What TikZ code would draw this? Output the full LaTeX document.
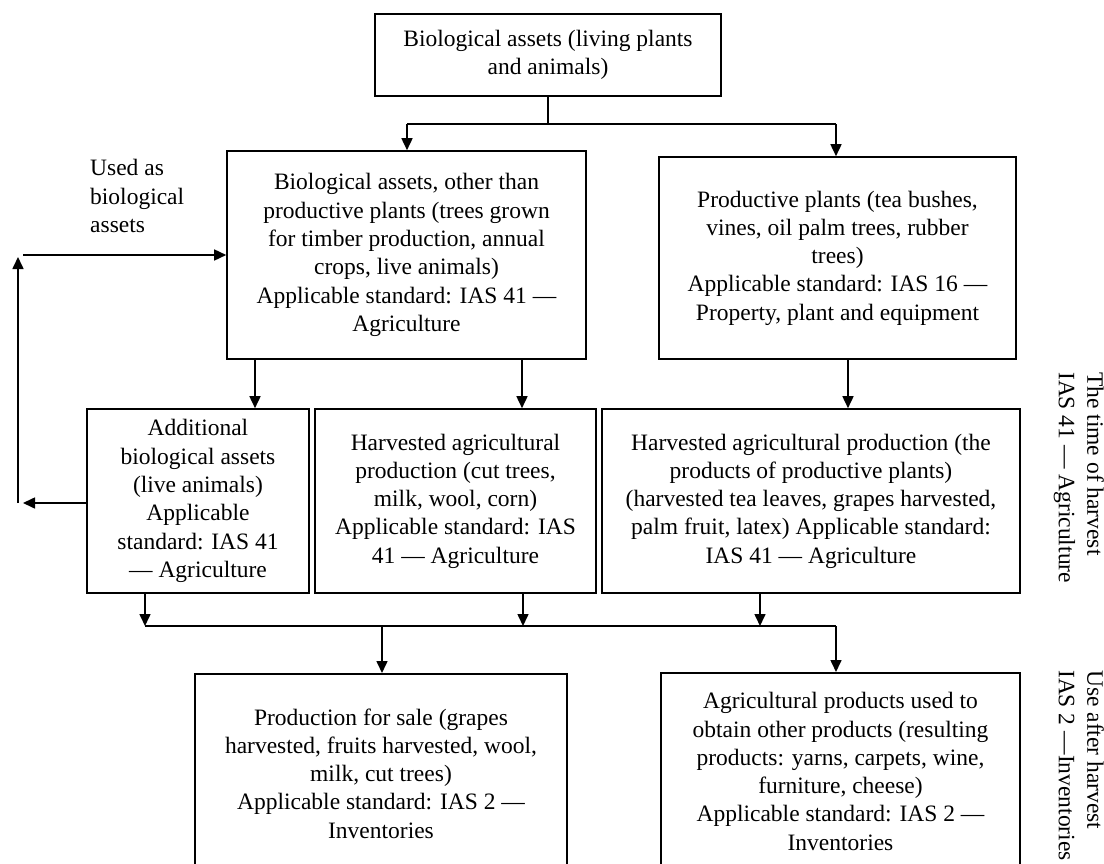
\documentclass[tikz,border=0pt]{standalone}
\usepackage{fontspec}
\setmainfont{Liberation Serif}
\usetikzlibrary{arrows.meta}
\begin{document}
\begin{tikzpicture}[x=1pt,y=-1pt,
  box/.style={draw, line width=1.6pt, align=center, inner sep=0pt,
    font=\fontsize{23.5}{28.3}\selectfont},
  plain/.style={align=center, inner sep=0pt, font=\fontsize{23.5}{28.3}\selectfont},
  arr/.style={-{Triangle[length=12pt,width=11pt]}, line width=1.6pt},
  ln/.style={line width=1.6pt}]
\useasboundingbox (0,0) rectangle (1104,864);
\clip (0,0) rectangle (1104,864);

% boxes
\node[box, minimum width=346, minimum height=82] (top) at (548,55)
  {Biological assets (living plants\\and animals)};
\node[box, minimum width=359, minimum height=208] (b2) at (406.5,255)
  {Biological assets, other than\\productive plants (trees grown\\for timber production, annual\\crops, live animals)\\Applicable standard: IAS 41 —\\Agriculture};
\node[box, minimum width=357, minimum height=202] (b3) at (837.5,258)
  {Productive plants (tea bushes,\\vines, oil palm trees, rubber\\trees)\\Applicable standard: IAS 16 —\\Property, plant and equipment};
\node[box, minimum width=222, minimum height=184] (b4) at (198,501)
  {Additional\\biological assets\\(live animals)\\Applicable\\standard: IAS 41\\— Agriculture};
\node[box, minimum width=281, minimum height=184] (b5) at (455.5,501)
  {Harvested agricultural\\production (cut trees,\\milk, wool, corn)\\Applicable standard: IAS\\41 — Agriculture};
\node[box, minimum width=418, minimum height=184] (b6) at (811,501)
  {Harvested agricultural production (the\\products of productive plants)\\(harvested tea leaves, grapes harvested,\\palm fruit, latex) Applicable standard:\\IAS 41 — Agriculture};
\node[box, minimum width=372, minimum height=240, anchor=north] (b7) at (381,673) {};
\node[plain] (b7t) at (381,773.5)
  {Production for sale (grapes\\harvested, fruits harvested, wool,\\milk, cut trees)\\Applicable standard: IAS 2 —\\Inventories};
\node[box, minimum width=359, minimum height=240, anchor=north] (b8) at (840.5,672) {};
\node[plain] (b8t) at (840.5,771.5)
  {Agricultural products used to\\obtain other products (resulting\\products: yarns, carpets, wine,\\furniture, cheese)\\Applicable standard: IAS 2 —\\Inventories};

% side labels
\node[plain, align=left, anchor=west] (used) at (90,196)
  {Used as\\biological\\assets};
\node[plain, align=left, rotate=-90, anchor=north west] (r1) at (1104,372)
  {The time of harvest\\IAS 41 — Agriculture};
\node[plain, align=left, rotate=-90, anchor=north west] (r2) at (1104,670)
  {Use after harvest\\IAS 2 —Inventories};

% coordinates
\coordinate (j1) at (548,124);
\coordinate (jl) at (407,124);
\coordinate (jr) at (836,124);
\coordinate (xa) at (255,0);
\coordinate (xb) at (522,0);
\coordinate (xc) at (848,0);
\coordinate (ya) at (0,626);
\coordinate (xd) at (145,0);
\coordinate (xe) at (523,0);
\coordinate (xf) at (760,0);
\coordinate (h1) at (145,626);
\coordinate (h2) at (836,626);
\coordinate (d1) at (382,626);
\coordinate (d2) at (836,626);
\coordinate (lp1) at (18,503);
\coordinate (lp2) at (18,257);
\coordinate (lp3) at (23,503);
\coordinate (lp4) at (23,255);

% top split
\draw[ln] (top.south -| j1) -- (j1);
\draw[ln] (jl) -- (jr);
\draw[arr] (jl) -- (b2.north -| jl);
\draw[arr] (jr) -- (b3.north -| jr);

% row 1 to row 2
\draw[arr] (b2.south -| xa) -- (b4.north -| xa);
\draw[arr] (b2.south -| xb) -- (b5.north -| xb);
\draw[arr] (b3.south -| xc) -- (b6.north -| xc);

% row 2 to collector line
\draw[arr] (b4.south -| xd) -- (ya -| xd);
\draw[arr] (b5.south -| xe) -- (ya -| xe);
\draw[arr] (b6.south -| xf) -- (ya -| xf);
\draw[ln] (h1) -- (h2);
\draw[arr] (d1) -- (b7.north -| d1);
\draw[arr] (d2) -- (b8.north -| d2);

% loop back
\draw[arr] (b4.west |- lp3) -- (lp3);
\draw[arr] (lp1) -- (lp2);
\draw[arr] (lp4) -- (b2.west |- lp4);
\end{tikzpicture}
\end{document}
